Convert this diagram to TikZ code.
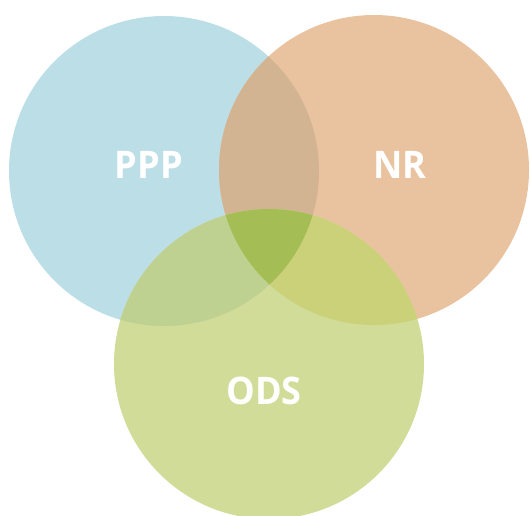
\documentclass[tikz,border=0pt]{standalone}
\usepackage{fontspec}
\setmainfont{Open Sans}
\definecolor{cP}{HTML}{BCDEE6}
\definecolor{cN}{HTML}{E9C39F}
\definecolor{cO}{HTML}{D0DC98}
\definecolor{cPN}{HTML}{D3B492}
\definecolor{cPO}{HTML}{BED190}
\definecolor{cNO}{HTML}{CBD178}
\definecolor{cPNO}{HTML}{A5BD55}
\begin{document}
\begin{tikzpicture}[x=1pt,y=-1pt,
  lbl/.style={text=white,font=\bfseries\fontsize{38}{40}\selectfont,inner sep=0pt,xscale=0.95}]
\useasboundingbox (0,0) rectangle (530,515);
\def\cirP{(164,171) circle (155pt)}
\def\cirN{(374,170) circle (155pt)}
\def\cirO{(269,364) circle (155pt)}
\fill[cP] \cirP;
\fill[cN] \cirN;
\fill[cO] \cirO;
\begin{scope}\clip \cirP; \fill[cPN] \cirN; \end{scope}
\begin{scope}\clip \cirP; \fill[cPO] \cirO; \end{scope}
\begin{scope}\clip \cirN; \fill[cNO] \cirO; \end{scope}
\begin{scope}\clip \cirP; \clip \cirN; \fill[cPNO] \cirO; \end{scope}
\node[lbl] (ppp) at (149,165) {PPP};
\node[lbl] (nr) at (400,165) {NR};
\node[lbl] (ods) at (264,391) {ODS};
\end{tikzpicture}
\end{document}
